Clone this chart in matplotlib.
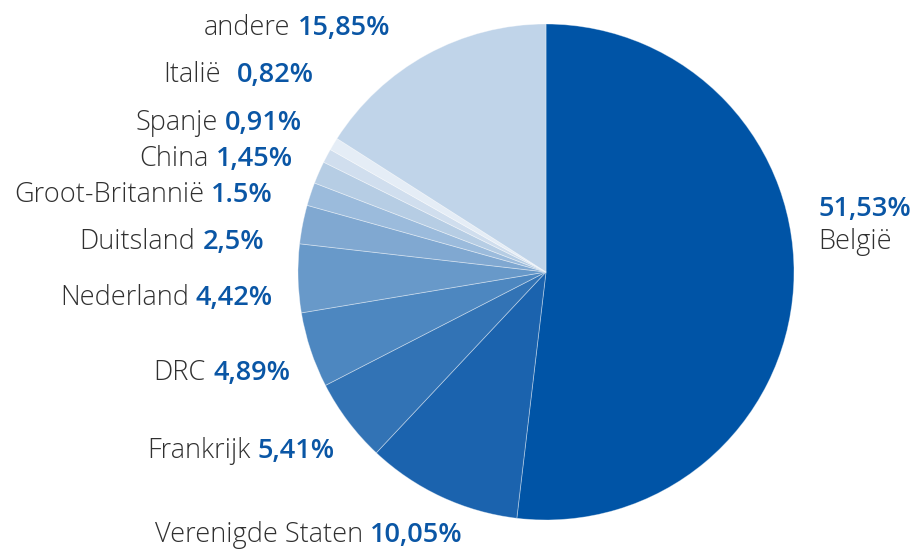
import matplotlib
matplotlib.use("Agg")
import matplotlib.pyplot as plt

countries = ["België", "Verenigde Staten", "Frankrijk", "DRC", "Nederland", "Duitsland",
             "Groot-Britannië", "China", "Spanje", "Italië", "andere"]
values = [51.53, 10.05, 5.41, 4.89, 4.42, 2.5, 1.5, 1.45, 0.91, 0.82, 15.85]
value_labels = ["51,53%", "10,05%", "5,41%", "4,89%", "4,42%", "2,5%",
                "1.5%", "1,45%", "0,91%", "0,82%", "15,85%"]
colors = ["#0054A6", "#1B63AE", "#3273B5", "#4D87C0", "#6899C9", "#80A8D1",
          "#9BBBDC", "#B6CDE4", "#D0DEEE", "#E5EDF6", "#C0D4E9"]

W, H = 919, 549
fig = plt.figure(figsize=(W / 100, H / 100), dpi=100)
ax = fig.add_axes([0, 0, 1, 1])

cx, cy, r = 546, H - 272, 248
ax.pie(values, colors=colors, startangle=90, counterclock=False,
       center=(cx, cy), radius=r, frame=True,
       wedgeprops=dict(linewidth=0.6, edgecolor=(1, 1, 1, 0.4)))
ax.set_xlim(0, W)
ax.set_ylim(0, H)
ax.set_aspect("equal")
ax.axis("off")

FONT = "Open Sans"
FS = 19.5
name_color = "#303030"
pct_color = "#0A56A5"

# label anchor: right end x, centre y (pixels from top)
label_pos = {
    "Verenigde Staten": (463, 535),
    "Frankrijk": (335, 451),
    "DRC": (290, 373),
    "Nederland": (273, 298),
    "Duitsland": (264, 242),
    "Groot-Britannië": (273, 195),
    "China": (293, 159),
    "Spanje": (302, 123),
    "Italië": (314, 75),
    "andere": (390, 28),
}

fig.canvas.draw()
renderer = fig.canvas.get_renderer()
for name, val in zip(countries, value_labels):
    if name == "België":
        continue
    x, y = label_pos[name]
    t = ax.text(x, H - y, val, ha="right", va="center", fontsize=FS,
                fontweight="semibold", color=pct_color, family=FONT)
    bb = t.get_window_extent(renderer=renderer)
    gap = 16 if name == "Italië" else 7
    ax.text(bb.x0 - gap, H - y, name, ha="right", va="center", fontsize=FS,
            fontweight="light", color=name_color, family=FONT)

ax.text(818, H - 209, value_labels[0], ha="left", va="center", fontsize=FS,
        fontweight="semibold", color=pct_color, family=FONT)
ax.text(818, H - 242, countries[0], ha="left", va="center", fontsize=FS,
        fontweight="light", color=name_color, family=FONT)

fig.savefig("out.png", dpi=100)
